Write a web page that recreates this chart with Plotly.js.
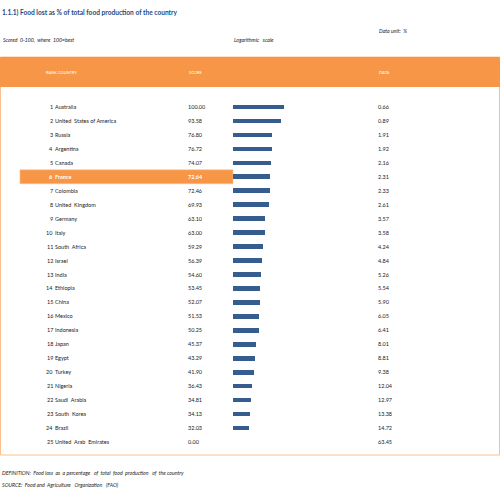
<!DOCTYPE html>
<html>
<head>
<meta charset="utf-8">
<script src="https://cdn.plot.ly/plotly-3.0.1.min.js"></script>
<style>html,body{margin:0;padding:0;background:#fff;}#chart{width:500px;height:503px;}</style>
</head>
<body>
<div id="chart"></div>
<script>
const ranks = [1,2,3,4,5,6,7,8,9,10,11,12,13,14,15,16,17,18,19,20,21,22,23,24,25];
const countries = ["Australia","United  States of America","Russia","Argentina","Canada","France","Colombia","United  Kingdom","Germany","Italy","South  Africa","Israel","India","Ethiopia","China","Mexico","Indonesia","Japan","Egypt","Turkey","Nigeria","Saudi  Arabia","South  Korea","Brazil","United  Arab  Emirates"];
const scores = [100.00,93.58,76.80,76.72,74.07,72.64,72.46,69.93,63.10,63.00,59.29,56.39,54.60,53.45,52.07,51.53,50.25,45.37,43.29,41.90,36.43,34.81,34.13,32.03,0.00];
const dataValues = [0.66,0.89,1.91,1.92,2.16,2.31,2.33,2.61,3.57,3.58,4.24,4.84,5.26,5.54,5.90,6.05,6.41,8.01,8.81,9.38,12.04,12.97,13.38,14.72,63.45];
const highlight = "France";

const W = 500, H = 503;
const px = v => v / W;
const py = v => 1 - v / H;
const FONT = "Lato, 'Liberation Sans', sans-serif";
const ORANGE = "#F79646";
const BORDER = "#FAC090";

const cats = countries.map((c, i) => ranks[i] + " " + c);
const hiIdx = countries.indexOf(highlight);

const trace = {
  type: "bar",
  orientation: "h",
  x: scores,
  y: cats,
  width: 0.33,
  marker: {color: "#375D8F", line: {width: 0}},
  hoverinfo: "skip"
};

const annotations = [];
const txt = (text, x, y, opt = {}) => Object.assign({
  text, x, y, xref: "paper", yref: "paper", showarrow: false,
  xanchor: "left", yanchor: "middle", borderpad: 0,
  font: {family: FONT, size: 5.5, color: "#222"}
}, opt);

annotations.push(txt("<b>1.1.1) Food lost as % of total food production of the country</b>", px(1), py(13), {font: {family: FONT, size: 6.6, color: "#1F497D"}}));
annotations.push(txt("<i>Data unit:  %</i>", px(378), py(31), {font: {family: FONT, size: 5.2, color: "#222"}}));
annotations.push(txt("<i>Scored  0-100,  where  100=best</i>", px(2), py(40), {font: {family: FONT, size: 5.2, color: "#222"}}));
annotations.push(txt("<i>Logarithmic   scale</i>", px(233), py(40), {font: {family: FONT, size: 5.2, color: "#222"}}));
annotations.push(txt("RANK COUNTRY", px(45), py(72), {font: {family: FONT, size: 4, color: "#fff"}}));
annotations.push(txt("SCORE", px(188), py(72), {font: {family: FONT, size: 4, color: "#fff"}}));
annotations.push(txt("DATA", px(378), py(72), {font: {family: FONT, size: 4, color: "#fff"}}));
annotations.push(txt("<i>DEFINITION:  Food loss  as  a percentage   of  total  food  production   of  the country</i>", px(1), py(473), {font: {family: FONT, size: 5.2, color: "#222"}}));
annotations.push(txt("<i>SOURCE:  Food and  Agriculture   Organization   (FAO)</i>", px(1), py(485), {font: {family: FONT, size: 5.2, color: "#222"}}));

cats.forEach((c, i) => {
  const hi = i === hiIdx;
  const col = hi ? "#fff" : "#222";
  const f = {family: FONT, size: 5.5, color: col};
  const b = s => hi ? "<b>" + s + "</b>" : s;
  const base = {xref: "paper", yref: "y", y: c, showarrow: false, yanchor: "middle", borderpad: 0, borderwidth: 0};
  annotations.push(Object.assign({}, base, {text: b(String(ranks[i])), x: px(52.6), xanchor: "right", font: f}));
  annotations.push(Object.assign({}, base, {text: b(countries[i]), x: px(54.8), xanchor: "left", font: f}));
  annotations.push(Object.assign({}, base, {text: b(scores[i].toFixed(2)), x: px(188), xanchor: "left", font: f}));
  annotations.push(Object.assign({}, base, {text: dataValues[i].toFixed(2), x: px(377.5), xanchor: "left", font: {family: FONT, size: 5.5, color: "#222"}}));
});

const shapes = [
  {type: "rect", xref: "paper", yref: "paper", x0: px(0.5), x1: px(499.5), y0: py(57), y1: py(455), line: {color: BORDER, width: 1}, fillcolor: "rgba(0,0,0,0)", layer: "below"},
  {type: "rect", xref: "paper", yref: "paper", x0: px(0), x1: px(500), y0: py(57), y1: py(87), line: {width: 0}, fillcolor: ORANGE, layer: "below"},
  {type: "rect", xref: "paper", yref: "y", x0: px(20), x1: px(233), y0: hiIdx - 0.5, y1: hiIdx + 0.5, line: {color: "#FAC090", width: 0.6}, fillcolor: ORANGE, layer: "below"}
];

const layout = {
  width: W, height: H,
  margin: {l: 0, r: 0, t: 0, b: 0},
  paper_bgcolor: "#fff", plot_bgcolor: "rgba(0,0,0,0)",
  showlegend: false,
  bargap: 0,
  xaxis: {domain: [px(233), px(335)], range: [0, 200], visible: false, fixedrange: true},
  yaxis: {domain: [py(449), py(100)], autorange: "reversed", visible: false, type: "category", fixedrange: true},
  annotations, shapes
};

Plotly.newPlot("chart", [trace], layout, {displayModeBar: false, staticPlot: true});
</script>
</body>
</html>
